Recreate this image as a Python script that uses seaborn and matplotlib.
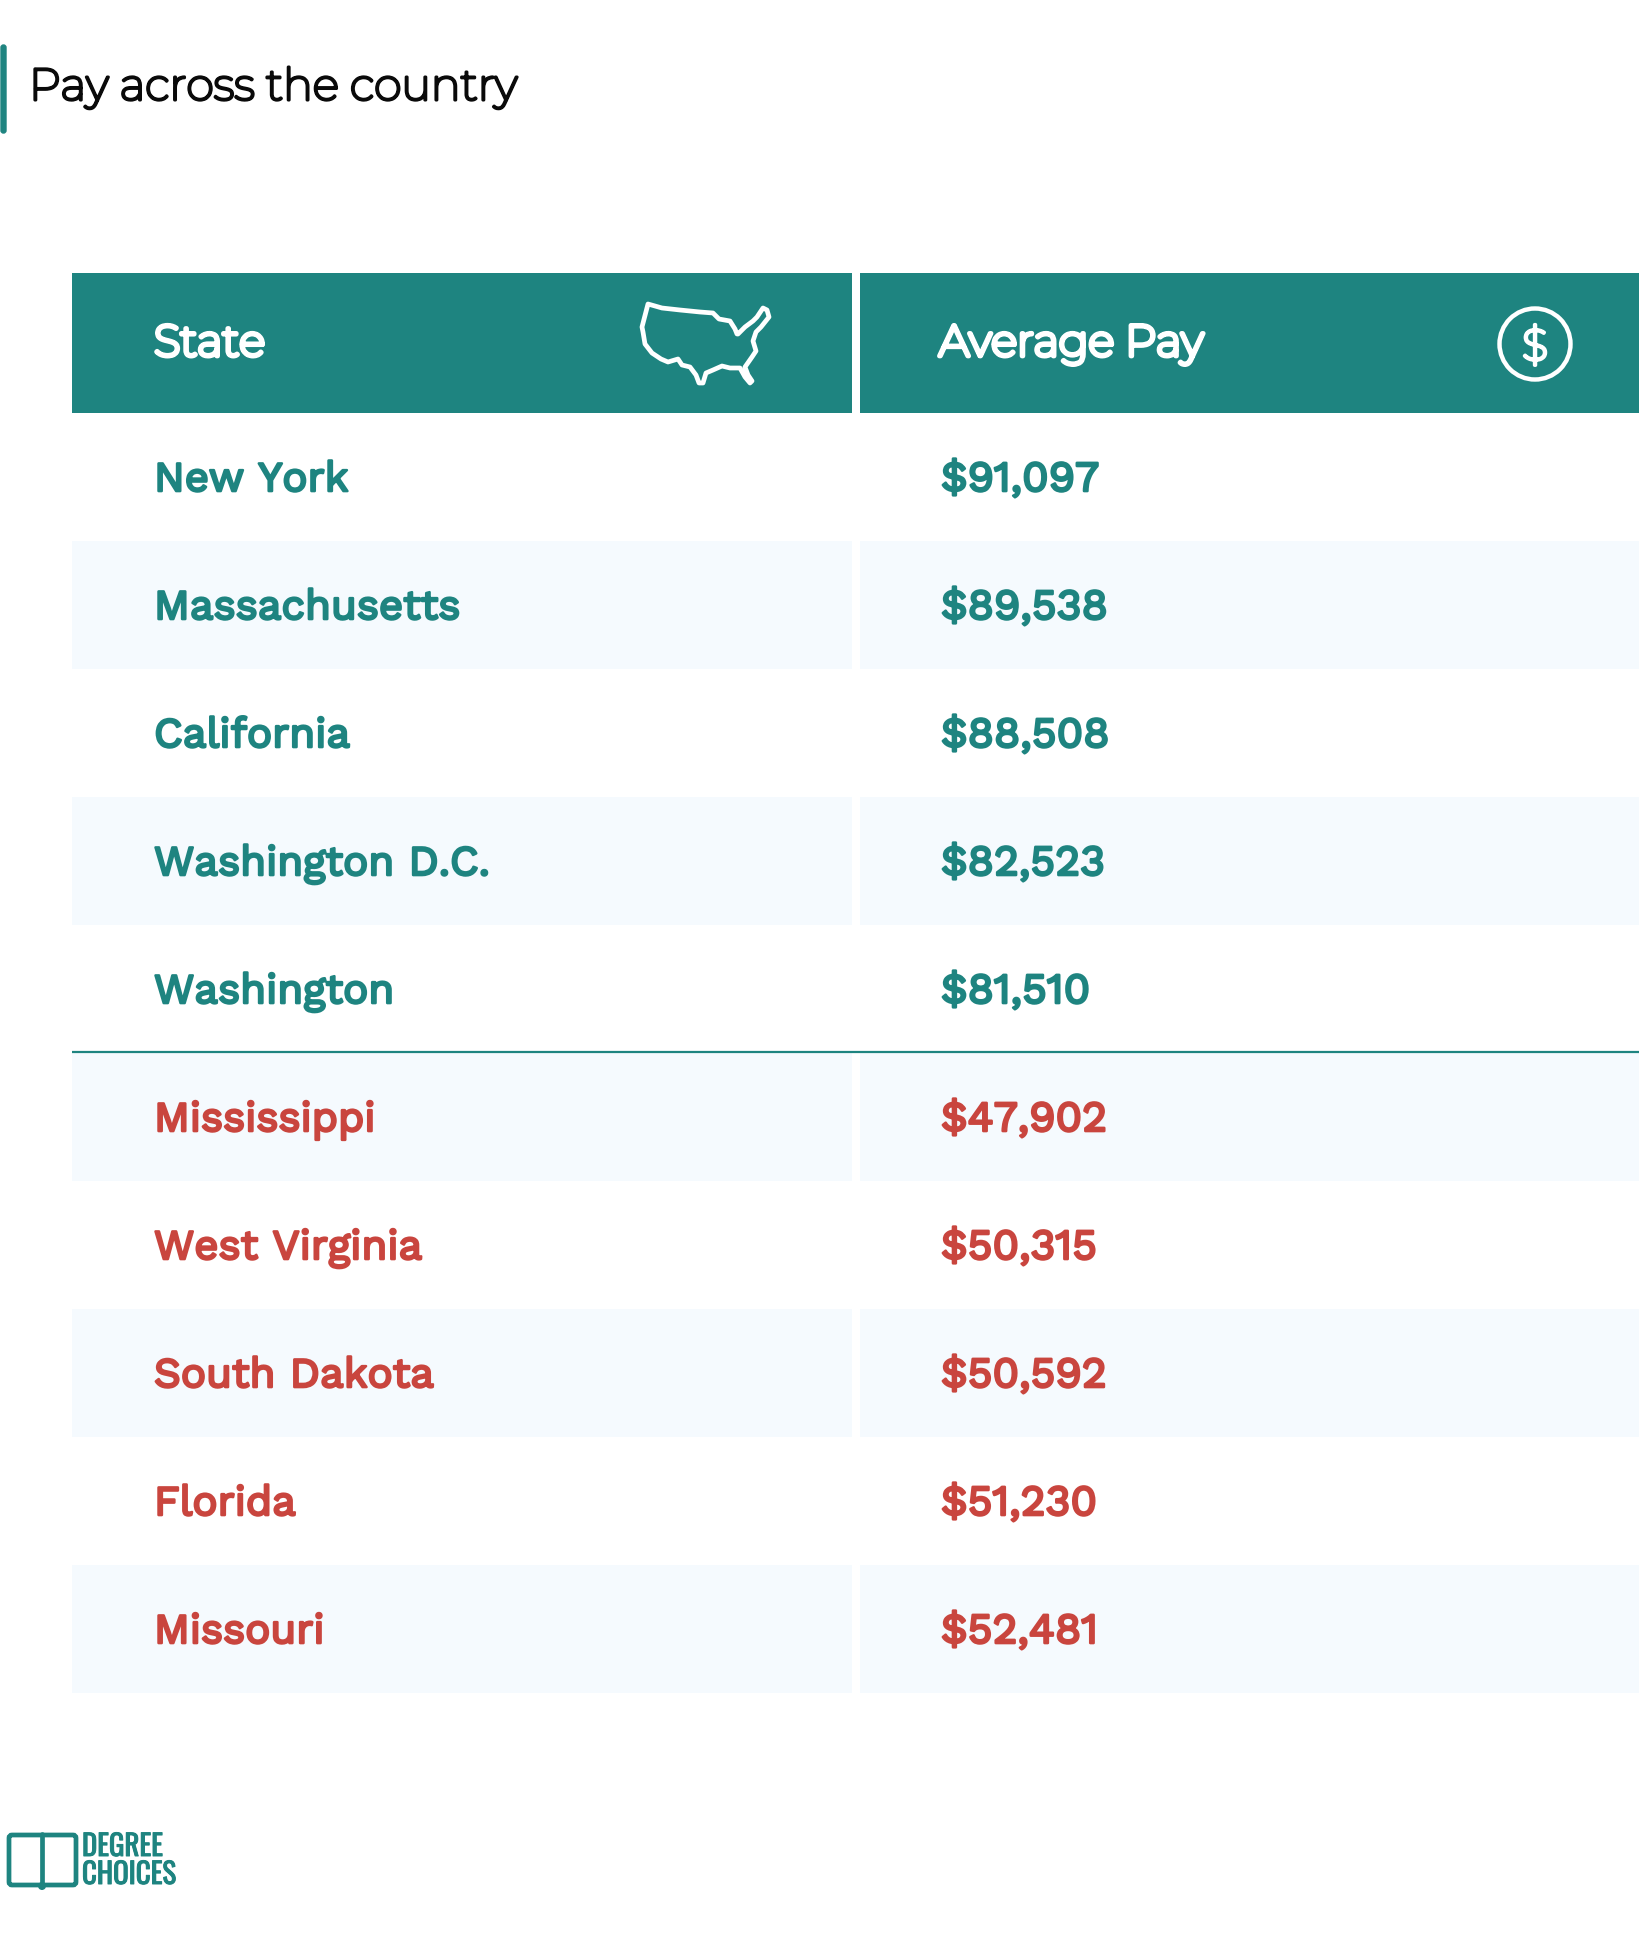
import matplotlib
matplotlib.use('Agg')
import matplotlib.pyplot as plt
from matplotlib.colors import ListedColormap
from matplotlib.patches import Circle, Ellipse, FancyBboxPatch, Polygon, Rectangle
import matplotlib.patheffects as pe
import numpy as np
import seaborn as sns

# table contents, top earners first and then the lowest paying states
states = ['New York', 'Massachusetts', 'California', 'Washington D.C.', 'Washington',
          'Mississippi', 'West Virginia', 'South Dakota', 'Florida', 'Missouri']
pay = [91097, 89538, 88508, 82523, 81510, 47902, 50315, 50592, 51230, 52481]
groups = ['top', 'top', 'top', 'top', 'top', 'low', 'low', 'low', 'low', 'low']
headers = ['State', 'Average Pay']
title = 'Pay across the country'

TEAL = '#1E8480'
RED = '#C9453E'
BAND = '#F5FAFE'
W, H = 1640, 1958

HEAD_FONT = ['Montserrat', 'Inter', 'DejaVu Sans']
BODY_FONT = ['Work Sans', 'Inter', 'DejaVu Sans']
LOGO_FONT = ['Oswald', 'Liberation Sans', 'DejaVu Sans']


def heavy(width, color):
    # the variable fonts load at their thin default, thicken them with an outline
    return [pe.withStroke(linewidth=width, foreground=color)]


sns.set_theme(style='white')
plt.rcParams['font.family'] = ['Inter', 'DejaVu Sans']

fig = plt.figure(figsize=(W / 100, H / 100), dpi=100, facecolor='white')

# overlay in image pixels for header, icons, logo
px = fig.add_axes([0, 0, 1, 1], zorder=3)
px.set_xlim(0, W)
px.set_ylim(H, 0)
px.axis('off')

# striped table body as a heatmap
body = fig.add_axes([72 / W, 1 - 1694 / H, 1568 / W, 1280 / H], zorder=1)
stripes = np.array([[i % 2, i % 2] for i in range(len(states))])
sns.heatmap(stripes, ax=body, cbar=False, cmap=ListedColormap(['white', BAND]),
            xticklabels=False, yticklabels=False)
body.axvline(1, color='white', lw=5.76)

for i, (st, val, grp) in enumerate(zip(states, pay, groups)):
    col = TEAL if grp == 'top' else RED
    body.text(82 / 784, i + 0.61, st, color=col, fontsize=30.2, family=BODY_FONT,
              ha='left', va='baseline', path_effects=heavy(1.8, col))
    body.text(1 + 85 / 784, i + 0.61, f'${val:,}', color=col, fontsize=30.8, family=BODY_FONT,
              ha='left', va='baseline', path_effects=heavy(1.8, col))

# rule between the two groups
px.plot([72, W], [1053, 1053], color=TEAL, lw=1.6, solid_capstyle='butt')

# title
px.add_patch(FancyBboxPatch((1, 46), 5, 88, boxstyle='round,pad=0,rounding_size=2.5', fc=TEAL, ec=TEAL, lw=1))
px.text(29, 101, title, fontsize=32, color='#0A0A0A', family=HEAD_FONT, va='baseline',
        path_effects=heavy(2.2, '#0A0A0A'))

# header boxes
px.add_patch(Rectangle((72, 274), 780, 140, fc=TEAL, ec='none'))
px.add_patch(Rectangle((860, 274), 780, 140, fc=TEAL, ec='none'))
px.text(154, 357, headers[0], color='white', fontsize=31.5, family=HEAD_FONT, va='baseline',
        path_effects=heavy(3.4, 'white'))
px.text(939, 357, headers[1], color='white', fontsize=31.5, family=HEAD_FONT, va='baseline',
        path_effects=heavy(3.4, 'white'))

# map icon
us_outline = [(648, 305), (662, 309), (680, 311), (700, 313), (713, 314), (719, 320), (730, 322),
              (735, 330), (737, 335), (738, 335), (745, 328), (753, 322), (757, 318), (763, 309),
              (767, 311), (769, 318), (761, 328), (756, 333), (753, 342), (756, 352), (752, 358),
              (745, 368), (748, 376), (752, 382), (750, 384), (745, 378), (740, 369), (730, 369),
              (722, 367), (713, 371), (706, 374), (703, 384), (699, 384), (696, 376), (690, 368),
              (682, 366), (678, 360), (668, 363), (661, 360), (652, 354), (645, 345), (643, 333), (642, 328)]
px.add_patch(Polygon(us_outline, closed=True, fc='none', ec='white', lw=3.4, joinstyle='round'))

# dollar icon
px.add_patch(Ellipse((1535, 345), 71, 71, fc='none', ec='white', lw=3.2))
px.text(1535, 345, '$', color='white', fontsize=31, family=HEAD_FONT, ha='center', va='center_baseline',
        path_effects=heavy(2.6, 'white'))

# logo
px.add_patch(FancyBboxPatch((9, 1836), 67, 50, boxstyle='round,pad=0,rounding_size=3', fc='none', ec=TEAL, lw=3.4))
px.plot([42, 42], [1835, 1887], color=TEAL, lw=3.4)
px.add_patch(Circle((42, 1887), 4, fc=TEAL, ec='none'))
px.text(82, 1857, 'DEGREE', color=TEAL, fontsize=20.8, family=LOGO_FONT, va='baseline',
        path_effects=heavy(0.7, TEAL))
px.text(82, 1885, 'CHOICES', color=TEAL, fontsize=20.8, family=LOGO_FONT, va='baseline',
        path_effects=heavy(0.7, TEAL))

fig.savefig('out.png', dpi=100)
